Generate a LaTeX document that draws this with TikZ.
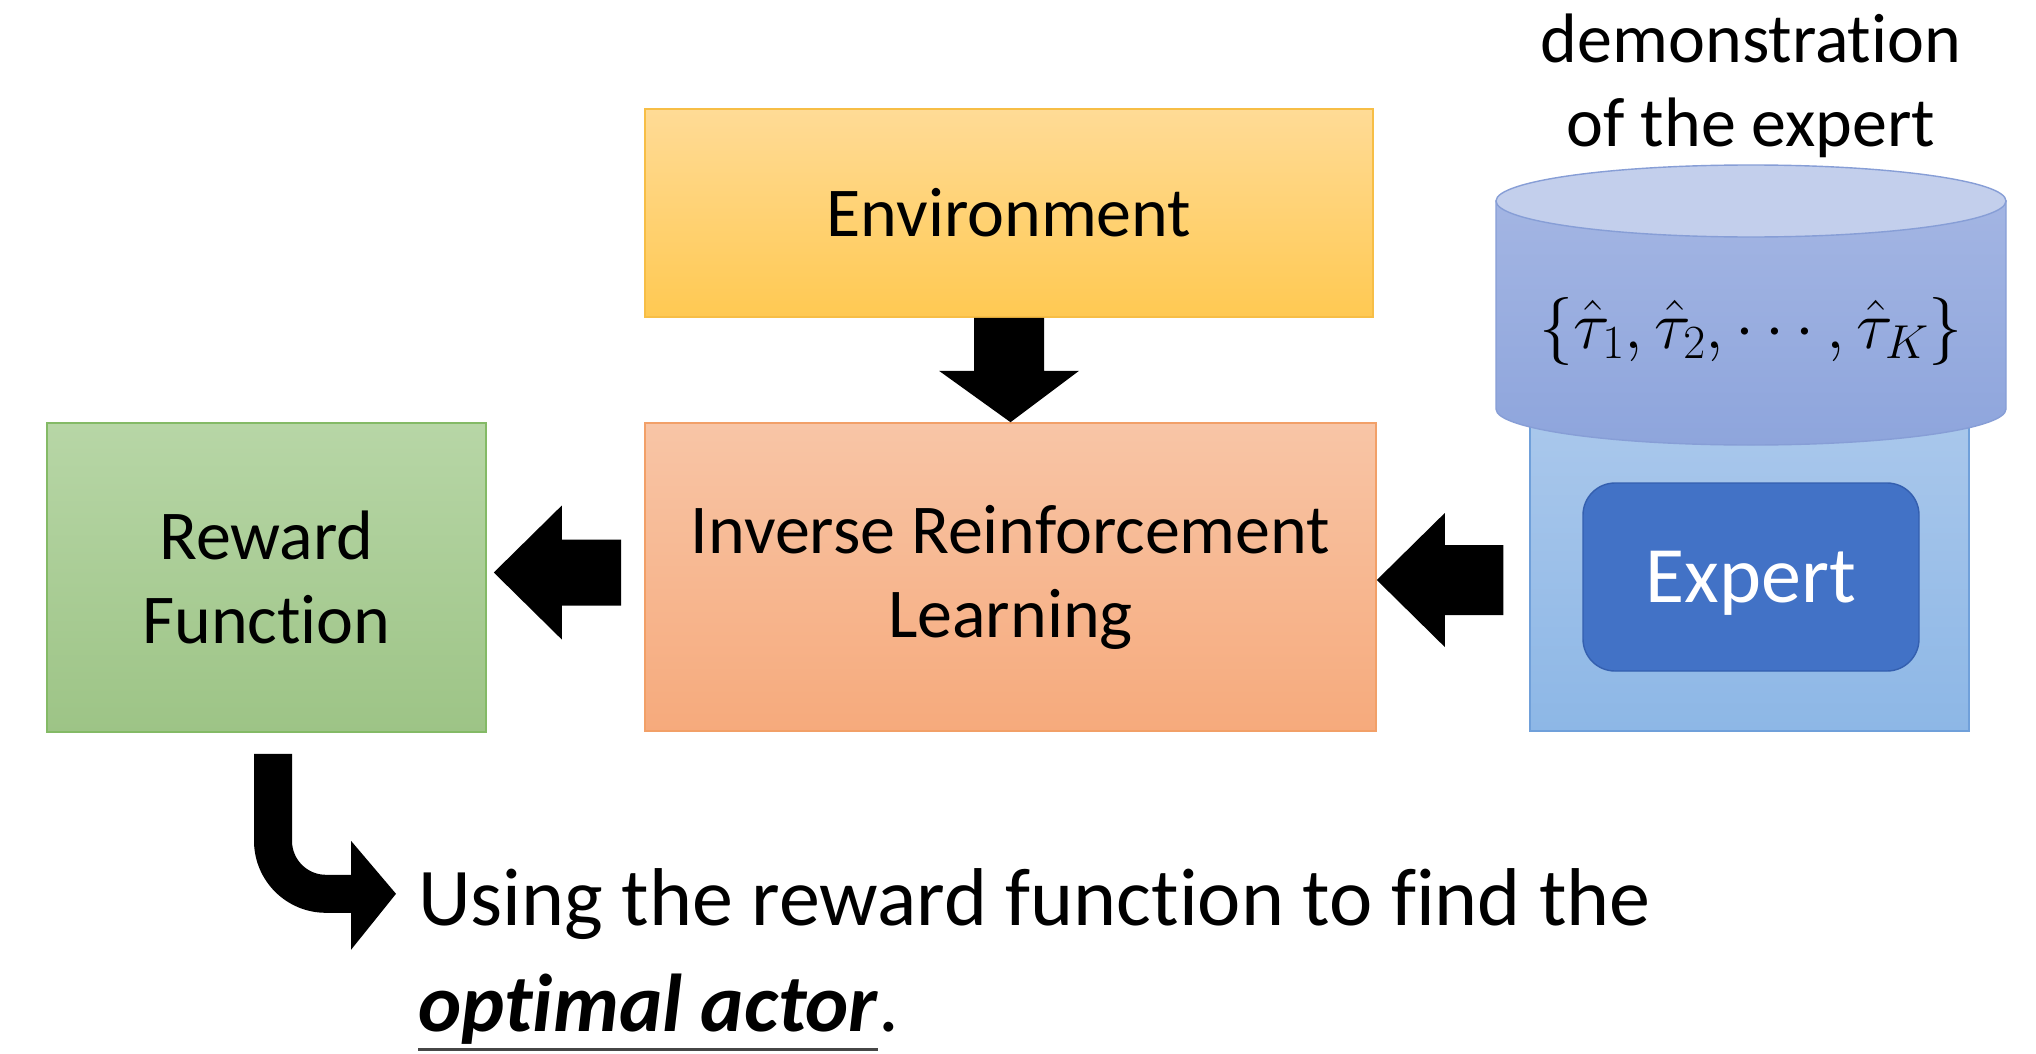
\RequirePackage{fix-cm}
\documentclass[tikz,border=0pt]{standalone}
\usepackage{fontspec}
\setmainfont{Carlito}[RawFeature={-liga;-clig;-calt;-dlig}]
\usetikzlibrary{calc}

\definecolor{envTop}{RGB}{255,219,150}
\definecolor{envBot}{RGB}{255,201,82}
\definecolor{envLine}{RGB}{247,190,70}
\definecolor{irlTop}{RGB}{248,197,166}
\definecolor{irlBot}{RGB}{246,170,124}
\definecolor{irlLine}{RGB}{242,160,104}
\definecolor{rwdTop}{RGB}{183,214,166}
\definecolor{rwdBot}{RGB}{157,196,134}
\definecolor{rwdLine}{RGB}{132,186,102}
\definecolor{bgTop}{RGB}{172,201,236}
\definecolor{bgBot}{RGB}{141,183,230}
\definecolor{bgLine}{RGB}{112,160,218}
\definecolor{cylTop}{RGB}{163,181,227}
\definecolor{cylBot}{RGB}{142,165,220}
\definecolor{cylCap}{RGB}{195,207,236}
\definecolor{cylLine}{RGB}{135,158,214}
\definecolor{expFill}{RGB}{66,114,198}
\definecolor{expLine}{RGB}{52,95,175}
\definecolor{ulGray}{RGB}{70,70,70}

\newcommand{\labelfont}{\fontsize{70}{84}\selectfont}
% underline a phrase with a rule of its own width
\newcommand{\actorline}[1]{\leavevmode\setbox0\hbox{#1}%
  \rlap{\color{ulGray}\rule[-20pt]{\wd0}{3pt}}\box0}

\begin{document}
\begin{tikzpicture}[x=1pt,y=-1pt,
  flowbox/.style={draw=#1Line, line width=1.6pt, top color=#1Top, bottom color=#1Bot,
    align=center, inner sep=0pt, font=\labelfont},
  blockarrow/.style={fill=black}]

  % canvas
  \fill[white] (0,0) rectangle (2036,1054);
  \useasboundingbox (0,0) rectangle (2036,1054);

  % main boxes
  \node[flowbox=env, minimum width=728pt, minimum height=208pt] (env) at (1009,213) {Environment};
  \node[flowbox=irl, minimum width=731pt, minimum height=308pt] (irl) at (1010.5,577) {Inverse Reinforcement\\Learning};
  \node[flowbox=rwd, minimum width=439pt, minimum height=309pt] (reward) at (266.5,577.5) {Reward\\Function};

  % expert with its demonstrations
  \node[draw=bgLine, line width=1.4pt, top color=bgTop, bottom color=bgBot,
        minimum width=439pt, minimum height=341pt, inner sep=0pt] (expertbg) at (1749.5,560.5) {};
  \path[draw=cylLine, line width=1.4pt, top color=cylTop, bottom color=cylBot]
    (1496,201) -- (1496,409) arc[start angle=180, end angle=360, x radius=255pt, y radius=36pt]
    -- (2006,201) -- cycle;
  \filldraw[fill=cylCap, draw=cylLine, line width=1.4pt] (1751,201) ellipse[x radius=255pt, y radius=36pt];
  \node[font=\fontsize{68}{80}\selectfont, inner sep=0pt] (traj) at (1751,331)
    {$\{\hat\tau_1,\hat\tau_2,\cdots,\hat\tau_K\}$};
  \node[draw=expLine, line width=1.4pt, fill=expFill, rounded corners=32pt,
        minimum width=336pt, minimum height=188pt, inner sep=0pt, text depth=0pt,
        text=white, font=\fontsize{80}{96}\selectfont] (expert) at (1751,577) {Expert};
  \node[anchor=north, align=center, inner sep=0pt, font=\labelfont] (demotitle) at (1751,14)
    {demonstration\\of the expert};

  % usage note
  \node[anchor=north west, align=left, inner sep=0pt, font=\fontsize{82}{106}\selectfont] (usage) at (418,868)
    {Using the reward function to find the\\%
     \actorline{\textbf{\textit{optimal actor}}}.};

  % environment -> IRL
  \fill[blockarrow]
    ($(env.south)+(-35,0)$) -- ($(env.south)+(35,0)$) -- ($(env.south)+(35,53)$)
    -- ($(env.south)+(70,53)$) -- (irl.north) -- ($(env.south)+(-70,53)$)
    -- ($(env.south)+(-35,53)$) -- cycle;

  % IRL -> reward function
  \coordinate (la) at ($(reward.east)+(7,-5)$);
  \coordinate (lb) at ($(irl.west |- la)+(-23,0)$);
  \fill[blockarrow]
    ($(lb)+(0,-33)$) -- ($(la)+(68,-33)$) -- ($(la)+(68,-67)$) -- (la)
    -- ($(la)+(68,67)$) -- ($(la)+(68,33)$) -- ($(lb)+(0,33)$) -- cycle;

  % expert -> IRL
  \coordinate (ra) at ($(irl.east)+(0,3)$);
  \coordinate (rb) at ($(expertbg.west |- ra)+(-26,0)$);
  \fill[blockarrow]
    ($(rb)+(0,-35)$) -- ($(ra)+(68,-35)$) -- ($(ra)+(68,-67)$) -- (ra)
    -- ($(ra)+(68,67)$) -- ($(ra)+(68,35)$) -- ($(rb)+(0,35)$) -- cycle;

  % reward function -> usage note (bent arrow)
  \begin{scope}[shift={(reward.south)}]
    \fill[blockarrow]
      (-12.5,21) -- (25.5,21) -- (25.5,108)
      .. controls (25.5,126.8) and (40.7,142) .. (59.5,142)
      -- (84.5,142) -- (84.5,108) -- (129.5,161) -- (84.5,217) -- (84.5,180) -- (59.5,180)
      .. controls (19.7,180) and (-12.5,147.8) .. (-12.5,108) -- cycle;
  \end{scope}
\end{tikzpicture}
\end{document}
